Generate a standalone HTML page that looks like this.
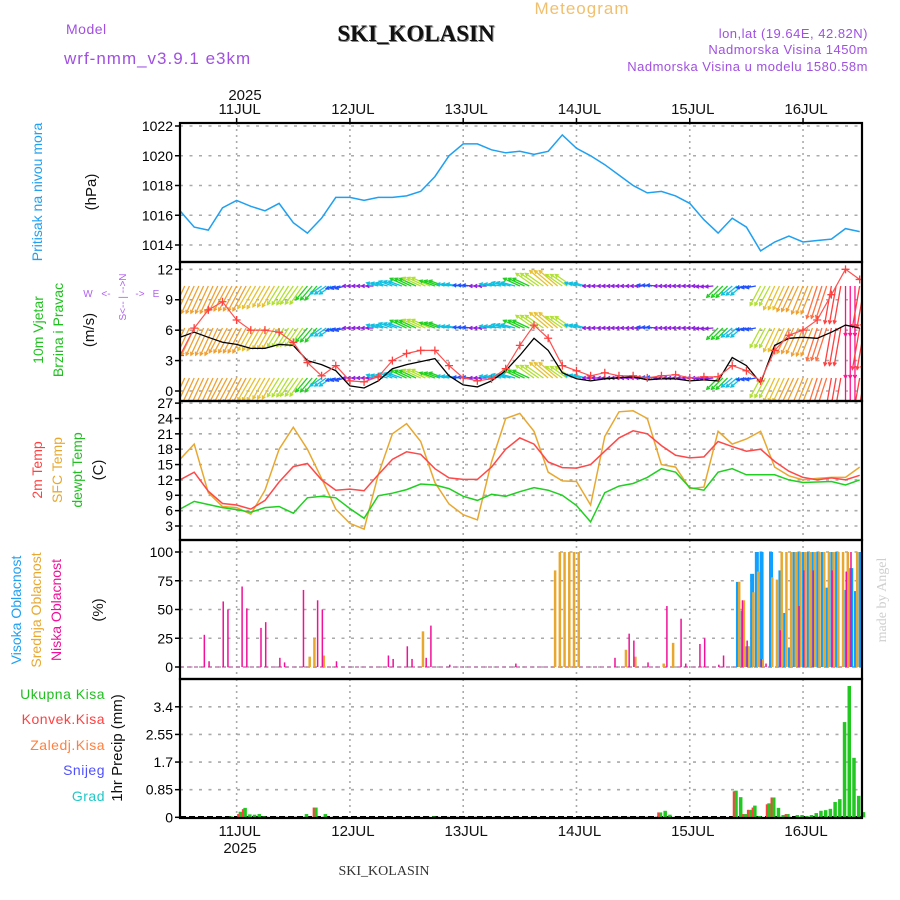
<!DOCTYPE html>
<html><head><meta charset="utf-8"><style>
html,body{margin:0;padding:0;background:#fff;}
svg{display:block;}
text{font-family:"Liberation Sans","DejaVu Sans",sans-serif;}
.serif{font-family:"Liberation Serif",serif;}
</style></head><body>
<svg id="chart" width="900" height="900" viewBox="0 0 900 900" xmlns="http://www.w3.org/2000/svg">
<defs>
<clipPath id="cp-p"><rect x="180" y="123" width="682" height="139"/></clipPath>
<clipPath id="cp-w"><rect x="180" y="262" width="682" height="139"/></clipPath>
<clipPath id="cp-t"><rect x="180" y="401" width="682" height="139"/></clipPath>
<clipPath id="cp-c"><rect x="180" y="540" width="682" height="139"/></clipPath>
<clipPath id="cp-r"><rect x="180" y="679" width="682" height="139"/></clipPath>
</defs>
<text x="582" y="14" font-size="17" fill="#f0c070" text-anchor="middle" letter-spacing="1">Meteogram</text>
<text x="66" y="34" font-size="14" fill="#a050e0" letter-spacing="0.5">Model</text>
<text x="417" y="42" font-size="23" font-weight="bold" fill="#888" text-anchor="middle" class="serif">SKI_KOLASIN</text>
<text x="416" y="41" font-size="23" font-weight="bold" fill="#111" text-anchor="middle" class="serif">SKI_KOLASIN</text>
<text x="64" y="64" font-size="17" fill="#a050e0" letter-spacing="1">wrf-nmm_v3.9.1 e3km</text>
<text x="868" y="38" font-size="13" fill="#a050e0" text-anchor="end" letter-spacing="0.5">lon,lat (19.64E, 42.82N)</text>
<text x="868" y="54" font-size="13" fill="#a050e0" text-anchor="end" letter-spacing="0.5">Nadmorska Visina 1450m</text>
<text x="868" y="71" font-size="13" fill="#a050e0" text-anchor="end" letter-spacing="0.5">Nadmorska Visina u modelu 1580.58m</text>
<text x="245" y="100" font-size="15" fill="#111" text-anchor="middle">2025</text>
<text x="240" y="853" font-size="15" fill="#111" text-anchor="middle">2025</text>
<text x="384" y="875" font-size="14" fill="#333" text-anchor="middle" class="serif">SKI_KOLASIN</text>
<text transform="translate(886,600) rotate(-90)" font-size="14" fill="#cfcfcf" text-anchor="middle" class="serif">made by Angel</text>

<text transform="translate(42,192) rotate(-90)" font-size="14" fill="#20a0f0" text-anchor="middle">Pritisak na nivou mora</text>
<text transform="translate(96,192) rotate(-90)" font-size="15" fill="#111" text-anchor="middle">(hPa)</text>
<text transform="translate(43,330) rotate(-90)" font-size="14" fill="#20c020" text-anchor="middle">10m Vjetar</text>
<text transform="translate(63,330) rotate(-90)" font-size="14" fill="#20c020" text-anchor="middle">Brzina i Pravac</text>
<text transform="translate(94,330) rotate(-90)" font-size="15" fill="#111" text-anchor="middle">(m/s)</text>
<g fill="#b060f0" font-size="10" text-anchor="middle">
<text transform="translate(126,297) rotate(-90)">S&lt;-- | --&gt;N</text>
<text x="88" y="297">W</text><text x="106" y="297">&lt;-</text><text x="140" y="297">-&gt;</text><text x="156" y="297">E</text>
</g>
<text transform="translate(42,470) rotate(-90)" font-size="14" fill="#ff4040" text-anchor="middle">2m Temp</text>
<text transform="translate(62,470) rotate(-90)" font-size="14" fill="#e8a830" text-anchor="middle">SFC Temp</text>
<text transform="translate(82,470) rotate(-90)" font-size="14" fill="#20c020" text-anchor="middle">dewpt Temp</text>
<text transform="translate(103,470) rotate(-90)" font-size="15" fill="#111" text-anchor="middle">(C)</text>
<text transform="translate(21,610) rotate(-90)" font-size="14" fill="#20a0f0" text-anchor="middle">Visoka Oblacnost</text>
<text transform="translate(41,610) rotate(-90)" font-size="14" fill="#e8a830" text-anchor="middle">Srednja Oblacnost</text>
<text transform="translate(61,610) rotate(-90)" font-size="14" fill="#f0109a" text-anchor="middle">Niska Oblacnost</text>
<text transform="translate(103,610) rotate(-90)" font-size="15" fill="#111" text-anchor="middle">(%)</text>
<g font-size="14" text-anchor="end" letter-spacing="0.5">
<text x="105" y="699" fill="#20c020">Ukupna Kisa</text>
<text x="105" y="724" fill="#ff4040">Konvek.Kisa</text>
<text x="105" y="750" fill="#ff8040">Zaledj.Kisa</text>
<text x="105" y="775" fill="#5050ff">Snijeg</text>
<text x="105" y="801" fill="#20c8c8">Grad</text>
</g>
<text transform="translate(122,748) rotate(-90)" font-size="15" fill="#111" text-anchor="middle">1hr Precip (mm)</text>
<g id="grid"></g>
<g id="marks"></g>
<g id="frames"></g>
</svg>
<script>
// ---- data (t = hours since 10 JUL 12 UTC) ----
const hours = [0,3,6,9,12,15,18,21,24,27,30,33,36,39,42,45,48,51,54,57,60,63,66,69,72,75,78,81,84,87,90,93,96,99,102,105,108,111,114,117,120,123,126,129,132,135,138,141,144];
const dayLabels = ['11JUL','12JUL','13JUL','14JUL','15JUL','16JUL'];
const dayHours = [12,36,60,84,108,132];
const pressure = [1016.3,1015.2,1015.0,1016.5,1017.0,1016.6,1016.3,1016.8,1015.5,1014.8,1015.8,1017.2,1017.2,1017.0,1017.2,1017.2,1017.3,1017.6,1018.6,1020.0,1020.8,1020.8,1020.4,1020.2,1020.3,1020.1,1020.3,1021.4,1020.5,1020.0,1019.4,1018.7,1018.0,1017.5,1017.6,1017.3,1016.8,1015.7,1014.8,1015.8,1015.2,1013.6,1014.2,1014.6,1014.2,1014.3,1014.4,1015.1,1014.9];
const windSpeed = [5.3,5.8,5.3,4.8,4.6,4.2,4.2,4.6,4.5,3.0,2.6,2.0,0.5,0.3,1.0,2.2,2.6,2.9,3.2,1.5,0.6,0.4,1.0,2.0,3.5,5.2,4.0,1.8,1.2,1.0,1.2,1.3,1.4,1.1,1.2,1.2,1.0,1.1,1.0,3.3,2.5,0.8,4.5,5.2,5.3,5.2,5.8,6.5,6.2];
const windGust = [3.5,6.2,8.0,8.8,7.0,6.0,6.0,5.8,4.8,2.8,1.5,2.5,1.0,0.9,1.4,3.0,3.7,4.0,4.0,2.5,1.3,1.0,1.2,2.2,4.5,6.5,5.2,2.5,2.0,1.5,1.8,1.5,1.5,1.3,1.5,1.6,1.3,1.4,1.4,2.5,2.0,1.0,4.0,5.5,6.0,7.0,9.5,12.0,11.0];
const arrowSpeed = [7,7,7,6.5,6.5,6,5.5,5,5,4,3,2,1.3,1.3,2.5,3,4,4.5,3.5,2.5,2,1.5,2.5,3,4,5,5.5,4.5,2.5,1.5,1.3,1.4,1.3,2,1.3,1.4,1.3,1.5,3.5,3,2,5,6,6.5,7,8,9,12,10];
const arrowDir = [115,115,115,118,118,120,120,122,125,130,145,165,180,180,195,200,205,205,200,190,185,180,190,195,205,215,220,215,195,180,180,180,180,185,180,180,180,175,135,140,170,118,115,115,112,108,100,90,100];
const temp2m = [12.0,13.5,9.8,7.4,7.1,6.3,8.0,11.6,14.6,15.2,12.0,10.0,10.2,9.9,13.0,16.0,17.5,17.0,14.2,12.4,12.1,12.1,14.5,18.0,20.2,19.0,15.5,14.4,14.3,15.0,17.6,20.2,21.6,21.0,18.7,16.8,16.3,16.5,19.5,18.5,17.6,18.0,15.6,13.7,12.5,12.0,12.4,12.0,12.9];
const tempSfc = [16,19,9.5,6.8,6.6,5.3,10,18,22.3,18,12.3,6.3,3.5,2.4,13,21,23,19.5,11.5,7.3,5.2,4.2,15.5,24,25,21.5,13.5,11.8,11.7,7.1,20.5,25.3,25.5,24,15,14.5,10.3,10.6,21.5,19,20,21.5,14.5,12.8,12,12.3,12.5,12.5,14.5];
const dewpt = [6.3,7.8,7.2,6.6,6.2,5.7,6.6,6.8,5.5,8.5,8.8,8.5,6.4,4.5,8.9,9.4,10.1,11.2,11.0,10.3,8.8,8.0,9.2,8.8,9.7,10.5,10.0,9.0,7.0,3.8,9.5,10.8,11.3,12.5,14.2,13.5,10.5,10.0,13.5,14.2,13.0,13.0,13.0,12.0,11.5,11.6,11.7,11.0,12.0];
const lowCloudHours = [5,6,9,10,13,14,17,18,21,22,26,29,30,33,44,45,48,49,52,53,57,71,92,95,96,99,103,106,107,110,111,114,115,119,120,123,124,127,131,132,134,138,141,142];
const lowCloudVals = [28,5,57,50,70,51,34,39,8,4,67,58,50,5,10,7,18,7,8,36,2,3,8,29,23,4,53,42,3,20,25,2,10,58,23,7,3,32,53,84,84,84,83,100];
const midCloudHours = [27,28,30,51,79,80,81,82,83,84,94,96,102,104,118,119,120,121,122,123,125,126,127,128,129,130,131,132,133,134,135,136,137,138,139,140,141,143];
const midCloudVals = [9,25,10,31,84,100,100,100,100,100,15,9,3,21,74,58,18,65,83,7,78,76,100,100,100,100,100,100,100,100,100,100,100,100,100,100,100,100];
const highCloudHours = [118,119,120,121,122,123,125,127,128,129,130,131,132,133,134,135,136,137,138,139,141,142,143,144];
const highCloudVals = [74,49,18,81,100,100,100,84,47,17,100,100,100,100,100,100,100,69,100,100,67,86,66,100];
const precipHours = [10,12,13,14,15,16,17,26,28,30,53,101,102,103,117,118,119,120,121,122,124,125,126,127,128,130,131,132,133,134,135,136,137,138,139,140,141,142,143,144];
const precipTotal = [0.03,0.17,0.29,0.09,0.08,0.1,0.03,0.1,0.3,0.1,0.03,0.15,0.2,0.08,0.82,0.62,0.1,0.23,0.36,0.04,0.43,0.61,0.29,0.07,0.1,0.07,0.07,0.04,0.07,0.13,0.2,0.22,0.26,0.47,0.56,2.93,4.04,1.83,0.66,0.16];
const precipConv = [0,0.1,0.25,0,0,0,0,0,0.3,0,0,0.15,0,0,0.8,0,0.1,0.23,0.3,0,0.4,0.61,0,0,0.1,0,0,0,0,0,0,0,0,0,0,0,0,0,0,0];
const pTicks = [1014,1016,1018,1020,1022];
const wTicks = [0,3,6,9,12];
const tTicks = [3,6,9,12,15,18,21,24,27];
const cTicks = [0,25,50,75,100];
const rTicks = [0,0.85,1.7,2.55,3.4];

// ---- scales ----
const X0 = 180, X1 = 862;
function xOf(h){ return X0 + h * 4.72; }
function yP(v){ return 245 - (v - 1014) * 14.875; }
function yW(v){ return 391 - v * 10.14; }
function yT(v){ return 526 - (v - 3) * 5.12; }
function yC(v){ return 667 - v * 1.15; }
function yR(v){ return 817.3 - v * 32.5; }

const NS = 'http://www.w3.org/2000/svg';
const grid = document.getElementById('grid');
const marks = document.getElementById('marks');
const frames = document.getElementById('frames');
function mk(tag, attrs, parent){
  const el = document.createElementNS(NS, tag);
  for (const k in attrs) el.setAttribute(k, attrs[k]);
  parent.appendChild(el);
  return el;
}

const panels = [
  {top:123, ticks:pTicks, f:yP, name:'pressure'},
  {top:262, ticks:wTicks, f:yW, name:'wind'},
  {top:401, ticks:tTicks, f:yT, name:'temperature'},
  {top:540, ticks:cTicks, f:yC, name:'cloud'},
  {top:679, ticks:rTicks, f:yR, name:'precip'}
];
panels.forEach(function(p){
  p.ticks.forEach(function(t){
    const y = p.f(t);
    const g = mk('line', {x1:X0, x2:X1, y1:y, y2:y, stroke:'#aaa', 'stroke-width':1.6, 'stroke-dasharray':'3,6.5'}, grid);
    
    
    const tk = mk('line', {x1:X0-5, x2:X0, y1:y, y2:y, stroke:'#000', 'stroke-width':1.5}, frames);
    
    
    const lb = mk('text', {x:X0-7, y:y+5, 'font-size':14, 'text-anchor':'end', fill:'#000'}, frames);
    lb.textContent = String(t);
    
    
  });
  dayHours.forEach(function(h){
    const x = xOf(h);
    const v = mk('line', {x1:x, x2:x, y1:p.top, y2:p.top+139, stroke:'#aaa', 'stroke-width':1.6, 'stroke-dasharray':'2,4'}, grid);
    
    
  });
  const fr = mk('rect', {x:X0, y:p.top, width:X1-X0, height:139, fill:'none', stroke:'#000', 'stroke-width':2.2}, frames);
  
  
});
dayHours.forEach(function(h, i){
  const x = xOf(h);
  const t1 = mk('text', {x:x+3, y:114, 'font-size':15, 'text-anchor':'middle', fill:'#111'}, frames);
  t1.textContent = dayLabels[i];
  
  
  const t2 = mk('text', {x:x+3, y:836, 'font-size':15, 'text-anchor':'middle', fill:'#111'}, frames);
  t2.textContent = dayLabels[i];
  
  
  const tk = mk('line', {x1:x, x2:x, y1:118, y2:123, stroke:'#000', 'stroke-width':1.5}, frames);
  
  
});

function poly(vals, f, color, clip, name, w){
  const pts = hours.map(function(h, i){ return xOf(h).toFixed(1) + ',' + f(vals[i]).toFixed(1); }).join(' ');
  const pl = mk('polyline', {points:pts, fill:'none', stroke:color, 'stroke-width':w||1.5, 'clip-path':'url(#'+clip+')'}, marks);
  
  
  return pl;
}
poly(pressure, yP, '#20a0f0', 'cp-p', 'pressure-line');

function arrowColor(s){
  if (s < 1.6) return '#9020e0';
  if (s < 2.3) return '#2050ff';
  if (s < 3.3) return '#10c0e0';
  if (s < 4.3) return '#20d020';
  if (s < 5.3) return '#b0e030';
  if (s < 6.3) return '#e8c030';
  if (s < 7.5) return '#f0a030';
  if (s < 9) return '#ff7040';
  if (s < 11) return '#ff4040';
  return '#ff1090';
}
const rowBases = [286, 328, 378];
const wg = mk('g', {'clip-path':'url(#cp-w)'}, marks);


rowBases.forEach(function(by){
  hours.forEach(function(h, i){
    for (let k = 0; k < 3; k++){
      const x = xOf(h + k);
      const s = arrowSpeed[i], a = arrowDir[i] * Math.PI / 180;
      const len = 2 + s * 4;
      const x2 = x + Math.cos(a) * len, y2 = by + Math.sin(a) * len;
      const c = arrowColor(s);
      const ln = mk('line', {x1:x, y1:by, x2:x2, y2:y2, stroke:c, 'stroke-width':1.3}, wg);
      
      
      const hl = 3.5;
      const p1 = [x2 - Math.cos(a - 0.5) * hl, y2 - Math.sin(a - 0.5) * hl];
      const p2 = [x2 - Math.cos(a + 0.5) * hl, y2 - Math.sin(a + 0.5) * hl];
      const hd = mk('polyline', {points:p1.join(',') + ' ' + x2 + ',' + y2 + ' ' + p2.join(','), fill:'none', stroke:c, 'stroke-width':1.3}, wg);
      
      
    }
  });
});
poly(windSpeed, yW, '#000', 'cp-w', 'wind-speed-line', 1.3);
poly(windGust, yW, '#ff5050', 'cp-w', 'wind-gust-line', 1.2);
hours.forEach(function(h, i){
  const x = xOf(h), y = yW(windGust[i]);
  const m = mk('path', {d:'M'+(x-4)+','+y+'H'+(x+4)+'M'+x+','+(y-4)+'V'+(y+4), stroke:'#ff4040', 'stroke-width':1.3, 'clip-path':'url(#cp-w)'}, marks);
  
  
});

poly(tempSfc, yT, '#e8a830', 'cp-t', 'sfc-temp-line');
poly(temp2m, yT, '#ff4848', 'cp-t', 'temp-2m-line');
poly(dewpt, yT, '#20d020', 'cp-t', 'dewpt-line');

const base = mk('line', {x1:X0, x2:X1, y1:667, y2:667, stroke:'#c080b0', 'stroke-width':1.5, 'stroke-dasharray':'4,3'}, marks);


highCloudHours.forEach(function(h, i){
  const r = mk('rect', {x:xOf(h)-1, y:yC(highCloudVals[i]), width:4, height:667-yC(highCloudVals[i]), fill:'#10a0ff'}, marks);
  
  
});
midCloudHours.forEach(function(h, i){
  const r = mk('rect', {x:xOf(h)+1, y:yC(midCloudVals[i]), width:2.5, height:667-yC(midCloudVals[i]), fill:'#e8a830'}, marks);
  
  
});
lowCloudHours.forEach(function(h, i){
  const r = mk('rect', {x:xOf(h), y:yC(lowCloudVals[i]), width:1.5, height:667-yC(lowCloudVals[i]), fill:'#f0109a'}, marks);
  
  
});

const pb = mk('line', {x1:X0, x2:X1, y1:817, y2:817, stroke:'#000', 'stroke-width':2, 'stroke-dasharray':'6,3'}, marks);


precipHours.forEach(function(h, i){
  const x = xOf(h) + 1.5;
  const g = mk('rect', {x:x+0.5, y:yR(precipTotal[i]), width:3.5, height:817.3-yR(precipTotal[i]), fill:'#20c820'}, marks);
  
  
  if (precipConv[i] > 0){
    const r = mk('rect', {x:x-1, y:yR(precipConv[i]), width:2, height:817.3-yR(precipConv[i]), fill:'#ff4040'}, marks);
    
    
  }
});
</script>
</body></html>
